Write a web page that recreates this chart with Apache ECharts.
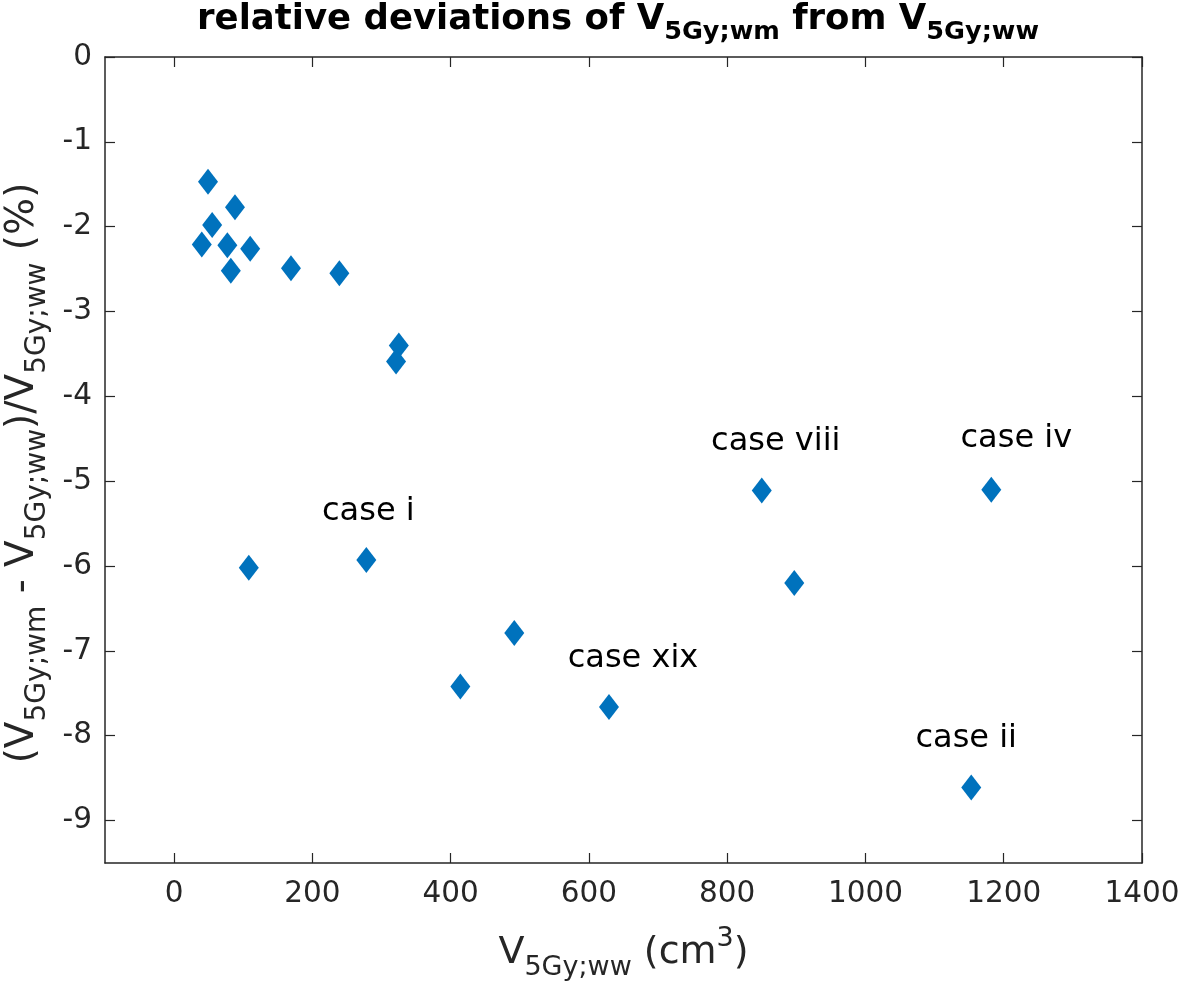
<!DOCTYPE html>
<html>
<head>
<meta charset="utf-8">
<script src="https://cdn.jsdelivr.net/npm/echarts@6/dist/echarts.min.js"></script>
<style>html,body{margin:0;padding:0;background:#fff}#c{width:1181px;height:987px}</style>
</head>
<body>
<div id="c"></div>
<script>
// ---- data ----
const volumeWW = [49, 88, 55, 40, 77, 110, 82, 169, 239, 325, 321, 108, 278, 414, 492, 629, 850, 897, 1182, 1153];
const relDev   = [-1.47, -1.77, -1.98, -2.21, -2.22, -2.26, -2.52, -2.49, -2.55, -3.40, -3.59, -6.02, -5.93, -7.42, -6.79, -7.66, -5.11, -6.20, -5.10, -8.61];
const caseNames = ['', '', '', '', '', '', '', '', '', '', '', '', 'case i', '', '', 'case xix', 'case viii', '', 'case iv', 'case ii'];
const xTicks = [0, 200, 400, 600, 800, 1000, 1200, 1400];
const yTicks = [0, -1, -2, -3, -4, -5, -6, -7, -8, -9];

// ---- styles ----
const labelOffsets = {
  'case i': [2, -14],
  'case xix': [24, -14],
  'case viii': [14, -15],
  'case iv': [25, -17],
  'case ii': [-5, -15]
};
const FONT = 'DejaVu Sans';
const AX = '#262626';

const seriesData = volumeWW.map((x, i) => {
  const d = { value: [x, relDev[i]] };
  if (caseNames[i]) {
    d.label = {
      show: true, position: 'top', formatter: caseNames[i],
      offset: labelOffsets[caseNames[i]],
      fontFamily: FONT, fontSize: 32, color: '#000'
    };
  }
  return d;
});

const baseX = {
  type: 'value', min: -100, max: 1400,
  splitLine: { show: false },
  axisLine: { show: true, onZero: false, lineStyle: { color: AX, width: 1.5 } },
  axisTick: { show: true, inside: true, length: 10, customValues: xTicks, lineStyle: { color: AX, width: 1.2 } }
};
const baseY = {
  type: 'value', min: -9.5, max: 0,
  splitLine: { show: false },
  axisLine: { show: true, onZero: false, lineStyle: { color: AX, width: 1.5 } },
  axisTick: { show: true, inside: true, length: 10, customValues: yTicks, lineStyle: { color: AX, width: 1.2 } }
};

const chart = echarts.init(document.getElementById('c'), null, { renderer: 'canvas' });
chart.setOption({
  animation: false,
  backgroundColor: '#fff',
  title: {
    text: '{m|relative deviations of V}{s|5Gy;wm}{m| from V}{s|5Gy;ww}',
    left: 613, top: -10, textAlign: 'center',
    textStyle: {
      rich: {
        m: { fontFamily: FONT, fontWeight: 'bold', fontSize: 35.5, lineHeight: 50, color: '#000' },
        s: { fontFamily: FONT, fontWeight: 'bold', fontSize: 25.5, lineHeight: 22, verticalAlign: 'bottom', color: '#000' }
      }
    }
  },
  grid: { left: 105, top: 57, right: 39, bottom: 124, containLabel: false, outerBoundsMode: 'none' },
  xAxis: [
    Object.assign({}, baseX, {
      position: 'bottom',
      axisLabel: { show: true, customValues: xTicks, formatter: v => String(v), fontFamily: FONT, fontSize: 29.5, color: AX, margin: 16 },
      name: '{m|V}{s|5Gy;ww}{m| (cm}{p|3}{m|)}',
      nameLocation: 'middle', nameGap: 62,
      nameTextStyle: {
        rich: {
          m: { fontFamily: FONT, fontSize: 38, lineHeight: 56, color: AX },
          s: { fontFamily: FONT, fontSize: 27, lineHeight: 20, verticalAlign: 'bottom', color: AX },
          p: { fontFamily: FONT, fontSize: 27, lineHeight: 42, verticalAlign: 'top', color: AX }
        }
      }
    }),
    Object.assign({}, baseX, { position: 'top', axisLabel: { show: false } })
  ],
  yAxis: [
    Object.assign({}, baseY, {
      position: 'left',
      axisLabel: { show: true, customValues: yTicks, formatter: v => String(v), fontFamily: FONT, fontSize: 29.5, color: AX, margin: 13 },
      name: '{m|(V}{s|5Gy;wm}{m| - V}{s|5Gy;ww}{m|)/V}{s|5Gy;ww}{m| (%)}',
      nameLocation: 'middle', nameGap: 48, nameRotate: 90,
      nameTextStyle: {
        padding: [0, 26, 0, 0],
        rich: {
          m: { fontFamily: FONT, fontSize: 39, lineHeight: 58, color: AX },
          s: { fontFamily: FONT, fontSize: 28, lineHeight: 24, verticalAlign: 'bottom', color: AX }
        }
      }
    }),
    Object.assign({}, baseY, { position: 'right', axisLabel: { show: false } })
  ],
  series: [{
    type: 'scatter',
    xAxisIndex: 0, yAxisIndex: 0,
    symbol: 'diamond',
    symbolSize: [20, 26],
    itemStyle: { color: '#0072BD', opacity: 1 },
    data: seriesData
  }]
});
</script>
</body>
</html>
